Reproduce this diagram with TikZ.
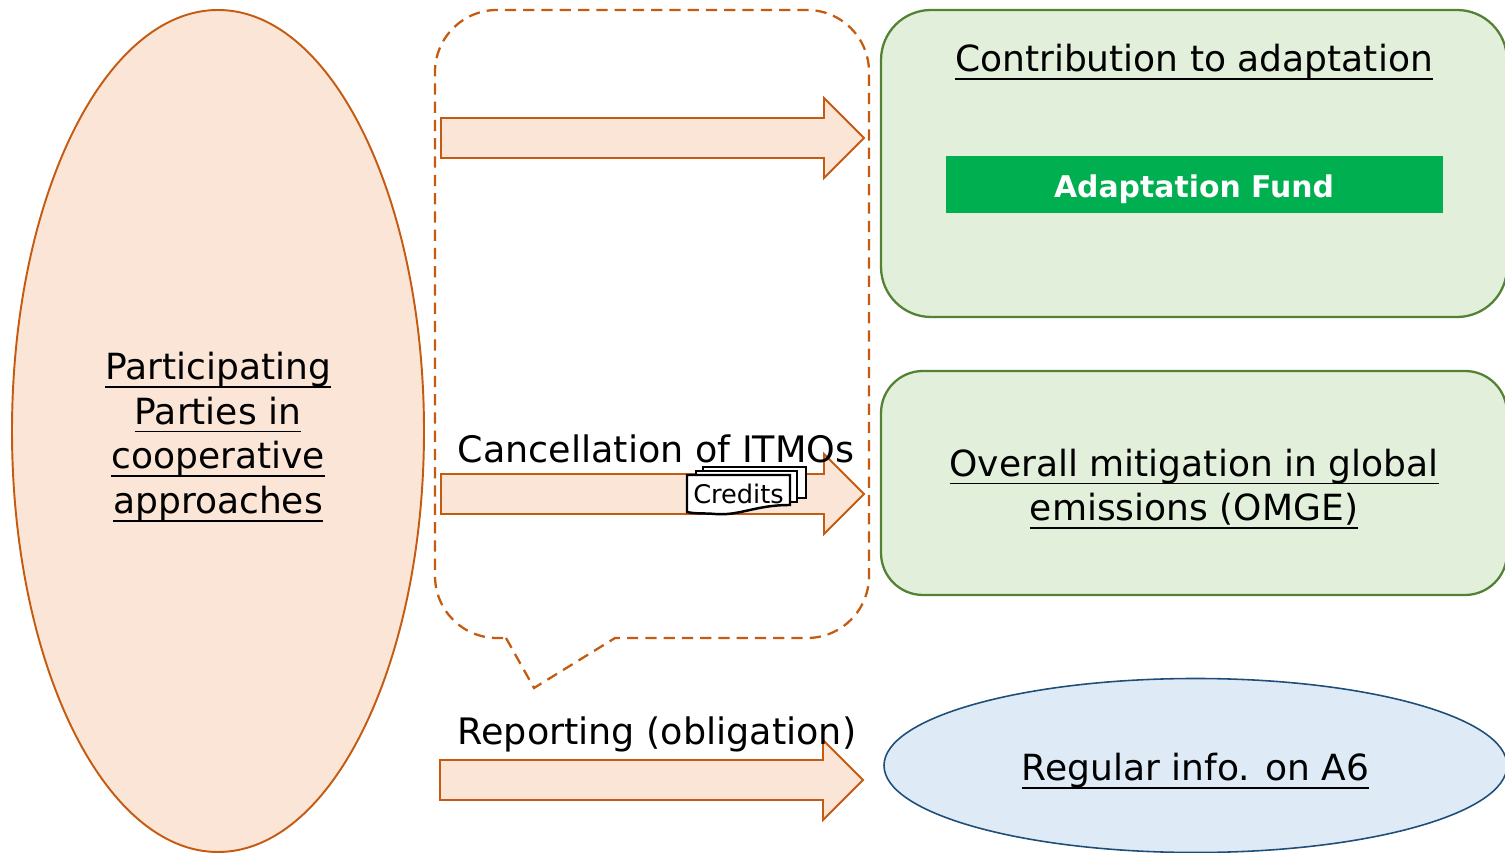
\documentclass[tikz,border=0pt]{standalone}
\usepackage{fontspec}
\setmainfont{DejaVu Sans}
\usetikzlibrary{calc}
\usetikzlibrary{positioning}
\usetikzlibrary{shapes.geometric}
\definecolor{partyfill}{HTML}{FBE5D6}
\definecolor{partyline}{HTML}{C55A11}
\definecolor{goalfill}{HTML}{E2EFDA}
\definecolor{goalline}{HTML}{548235}
\definecolor{infofill}{HTML}{DEEBF7}
\definecolor{infoline}{HTML}{1F4E79}
\definecolor{fundfill}{HTML}{00B050}
\newcommand{\undertext}[1]{\setbox0\hbox{#1}\leavevmode\hbox{\rlap{\copy0}\rlap{\raisebox{-2.3pt}{\rule{\wd0}{0.45pt}}}\kern\wd0}}
\begin{document}
\begin{tikzpicture}[
	scale=1, every node/.style={scale=1},
  party/.style = {draw=partyline,fill=partyfill,line width=0.55pt},
  goal/.style = {draw=goalline,fill=goalfill,line width=0.65pt},
  info/.style = {draw=infoline,fill=infofill,line width=0.45pt},
  title/.style = {font=\fontsize{10.25}{12.7}\selectfont,align=center,text=black},
  flow/.style = {font=\fontsize{10.38}{12.7}\selectfont,text=black},
  credit/.style = {draw=black,fill=white,line width=0.7pt}
  ]
	\useasboundingbox (0,0) rectangle (15.05,8.52);

	% left party
	\node[party,ellipse,minimum width=4.12cm,minimum height=8.42cm,inner sep=0pt] (parties) at (2.18,4.21) {};
	\node[title] (partiestxt) at (2.18,4.15) {\undertext{Participating}\\\undertext{Parties in}\\\undertext{cooperative}\\\undertext{approaches}};

	% dashed callout
	\coordinate (@tip) at (5.34,1.64);
	\draw[partyline,line width=0.65pt,dash pattern=on 3.2pt off 2pt]
		(5.06,2.14) -- (@tip) -- (6.15,2.14) -- (8.07,2.14)
		arc (270:360:0.62) -- (8.69,7.80) arc (0:90:0.62) -- (4.97,8.42)
		arc (90:180:0.62) -- (4.35,2.76) arc (180:270:0.62) -- cycle;

	% arrows
	\draw[party] (4.41,7.34) -- (8.24,7.34) -- (8.24,7.54) -- (8.64,7.14) -- (8.24,6.74) -- (8.24,6.94) -- (4.41,6.94) -- cycle;
	\draw[party] (4.41,3.78) -- (8.24,3.78) -- (8.24,3.98) -- (8.64,3.58) -- (8.24,3.18) -- (8.24,3.38) -- (4.41,3.38) -- cycle;
	\draw[party] (4.40,0.92) -- (8.23,0.92) -- (8.23,1.12) -- (8.63,0.72) -- (8.23,0.32) -- (8.23,0.52) -- (4.40,0.52) -- cycle;

	% credits
	\draw[credit] (7.03,3.85) rectangle (8.06,3.54);
	\draw[credit] (6.96,3.81) rectangle (7.97,3.50);
	\draw[credit] (6.87,3.77) -- (7.90,3.77) -- (7.90,3.47) .. controls (7.55,3.47) and (7.4,3.36) .. (7.15,3.38) .. controls (7.05,3.39) and (6.95,3.38) .. (6.87,3.40) -- cycle;
	\node[font=\fontsize{7.3}{9}\selectfont,inner sep=0pt] (credits) at (7.385,3.58) {Credits};

	\node[flow] (cancel) at (6.56,4.03) {Cancellation of ITMOs};
	\node[flow] (report) at (6.57,1.18) {Reporting (obligation)};

	% right boxes
	\draw[goal,rounded corners=0.5cm] (8.81,5.35) rectangle (15.07,8.42);
	\node[title] (adapt) at (11.94,7.90) {\undertext{Contribution to adaptation}};
	\node[fill=fundfill,minimum width=4.97cm,minimum height=0.57cm,inner sep=0pt] (fund) at (11.945,6.675) {};
	\node[text=white,font=\fontsize{8.5}{11}\selectfont\bfseries,inner sep=0pt] (fundtxt) at (11.94,6.63) {Adaptation Fund};

	\draw[goal,rounded corners=0.42cm] (8.81,2.57) rectangle (15.07,4.81);
	\node[title] (omge) at (11.94,3.63) {\undertext{Overall mitigation in global}\\\undertext{emissions (OMGE)}};

	\node[info,ellipse,minimum width=6.23cm,minimum height=1.74cm,inner sep=0pt] (regular) at (11.955,0.865) {};
	\node[title] (regulartxt) at (11.955,0.81) {\undertext{Regular info. on A6}};
\end{tikzpicture}
\end{document}
